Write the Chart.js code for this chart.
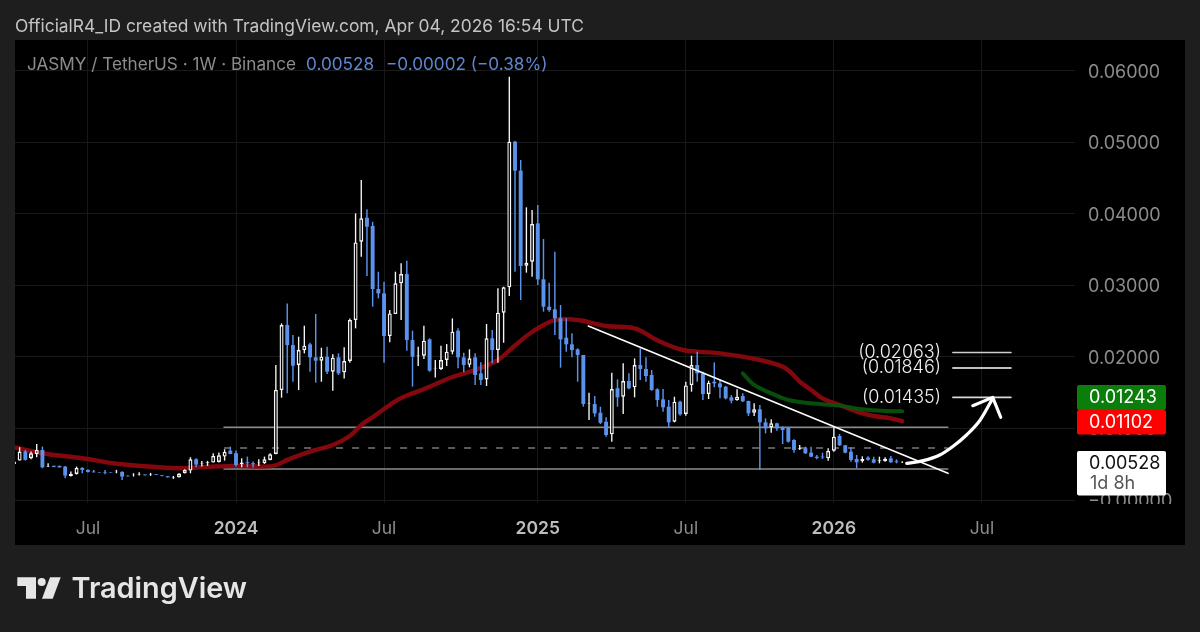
<!DOCTYPE html>
<html><head><meta charset="utf-8">
<style>html,body{margin:0;padding:0;background:#1e1e1e;overflow:hidden}#w{position:absolute;left:0;top:0;width:1200px;height:632px}</style>
<script src="https://cdn.jsdelivr.net/npm/chart.js@4/dist/chart.umd.min.js"></script>
</head><body><div id="w"><canvas id="c" width="1200" height="632"></canvas></div>
<script>
const firstWeek = -39;
const opens = [
.00505,.00551,.00677,.00584,.00644,.00700,.00467,.00477,.00477,.00467,
.00337,.00365,.00449,.00421,.00397,.00390,.00392,.00385,.00388,.00393,
.00340,.00348,.00358,.00356,.00354,.00360,.00346,.00332,.00316,.00318,
.00374,.00411,.00570,.00510,.00518,.00523,.00533,.00607,.00691,.00654,
.00505,.00528,.00514,.00514,.00514,.00561,.00644,.01538,.02447,.02167,
.01888,.02097,.02177,.01995,.01948,.02004,.01795,.01995,.01785,.01944,
.02517,.03613,.03948,.03832,.02951,.02890,.02293,.02601,.03030,.03160,
.02237,.02010,.02018,.02247,.01840,.01832,.01958,.02074,.02368,.01995,
.01890,.01995,.01771,.01687,.02261,.02097,.02620,.02974,.05012,.04606,
.03277,.03333,.03869,.03086,.02704,.02667,.02541,.02270,.02177,.02107,
.02028,.01345,.01342,.01221,.01095,.00918,.01562,.01445,.01664,.01576,
.01888,.01832,.01748,.01548,.01408,.01305,.01095,.01375,.01203,.01608,
.01888,.01771,.01482,.01655,.01631,.01585,.01436,.01398,.01454,.01385,
.01221,.01268,.01086,.01016,.01072,.01017,.01012,.00839,.00714,.00723,
.00662,.00606,.00606,.00583,.00690,.00895,.00765,.00676,.00574,.00541,
.00592,.00569,.00550,.00546,.00583,.00541,.00524];
const highs = [
.00561,.00738,.00700,.00677,.00784,.00747,.00514,.00484,.00482,.00477,
.00397,.00467,.00458,.00425,.00421,.00392,.00421,.00387,.00421,.00402,
.00343,.00374,.00388,.00358,.00379,.00362,.00349,.00335,.00337,.00375,
.00430,.00598,.00584,.00547,.00547,.00654,.00663,.00710,.00747,.00691,
.00584,.00607,.00537,.00570,.00607,.00654,.01889,.02470,.02750,.02307,
.02284,.02438,.02200,.02601,.02130,.02144,.02037,.02051,.02135,.02540,
.04009,.04475,.04065,.03892,.03193,.03053,.02657,.03193,.03310,.03347,
.02368,.02144,.02438,.02261,.01958,.02158,.02181,.02540,.02401,.02060,
.02107,.02051,.01925,.02461,.02377,.02960,.02983,.05921,.05020,.04755,
.04093,.04056,.04126,.03650,.03040,.03473,.02727,.02541,.02331,.02121,
.02028,.01501,.01454,.01305,.01156,.01781,.01687,.01911,.01771,.01981,
.02121,.01995,.01818,.01562,.01552,.01398,.01445,.01389,.01655,.02018,
.02074,.01795,.01669,.01925,.01678,.01594,.01468,.01548,.01492,.01389,
.01352,.01328,.01142,.01128,.01081,.01030,.01020,.00850,.00769,.00746,
.00746,.00630,.00662,.00723,.01017,.00923,.00770,.00737,.00630,.00611,
.00611,.00606,.00606,.00597,.00616,.00569,.00541];
const lows = [
.00491,.00551,.00551,.00570,.00598,.00444,.00463,.00458,.00453,.00304,
.00330,.00356,.00374,.00385,.00385,.00383,.00360,.00378,.00374,.00281,
.00330,.00328,.00342,.00344,.00337,.00349,.00332,.00314,.00295,.00316,
.00370,.00374,.00458,.00467,.00477,.00523,.00523,.00551,.00640,.00467,
.00458,.00458,.00453,.00477,.00505,.00555,.00640,.01431,.01492,.01655,
.01538,.02051,.01795,.01641,.01655,.01762,.01529,.01748,.01701,.01920,
.02401,.03403,.03132,.02704,.02820,.01920,.02205,.02601,.02517,.02088,
.01585,.01874,.01972,.01794,.01715,.01818,.01874,.02037,.01841,.01785,
.01855,.01608,.01608,.01594,.01911,.01920,.02200,.02853,.03194,.02797,
.03180,.03124,.03007,.02634,.02634,.02307,.01851,.02074,.01995,.01655,
.01305,.01119,.01165,.01063,.00886,.00816,.01305,.01203,.01548,.01436,
.01678,.01655,.01529,.01305,.01235,.01016,.01086,.01179,.01179,.01515,
.01655,.01398,.01412,.01576,.01422,.01408,.01352,.01389,.01370,.01175,
.01175,.00419,.00932,.00942,.00970,.00783,.00802,.00662,.00700,.00644,
.00597,.00569,.00574,.00550,.00676,.00755,.00655,.00536,.00443,.00522,
.00550,.00513,.00513,.00536,.00522,.00513,.00518];
const closes = [
.00540,.00677,.00561,.00654,.00700,.00458,.00477,.00463,.00458,.00342,
.00365,.00449,.00421,.00393,.00388,.00385,.00384,.00380,.00395,.00328,
.00332,.00354,.00364,.00346,.00360,.00351,.00337,.00318,.00322,.00369,
.00421,.00570,.00495,.00518,.00528,.00616,.00626,.00672,.00644,.00491,
.00523,.00514,.00500,.00523,.00570,.00640,.01539,.02447,.02167,.01878,
.02097,.02158,.01995,.01948,.02004,.01795,.01990,.01771,.01944,.02517,
.03603,.03939,.03822,.02951,.02890,.02293,.02610,.03030,.03160,.02237,
.02004,.02022,.02228,.01808,.01850,.01958,.02074,.02354,.01995,.01888,
.01981,.01748,.01678,.02261,.02097,.02620,.02974,.05012,.04606,.03273,
.03319,.03860,.03086,.02704,.02657,.02541,.02247,.02177,.02098,.02028,
.01342,.01352,.01212,.01081,.00909,.01552,.01436,.01664,.01562,.01888,
.01832,.01734,.01538,.01398,.01296,.01086,.01375,.01198,.01603,.01888,
.01771,.01482,.01641,.01631,.01576,.01422,.01389,.01445,.01380,.01212,
.01268,.01086,.01002,.01072,.01002,.00979,.00816,.00700,.00723,.00653,
.00606,.00588,.00597,.00686,.00886,.00765,.00662,.00560,.00527,.00574,
.00564,.00522,.00564,.00578,.00527,.00530,.00528];

const redWeeks = [-39,-34,-27,-20,-10,-5,0,5,7,9,13,17,20,22,24,26,29,33.5,38,42,46,48.7,52,56,60,65,70,74.5,78.5,85,92,96,97.6,99,101,103,106,109,112,115,117];
const redValues = [.00738,.00654,.00584,.00500,.00444,.00463,.00477,.00467,.00486,.00561,.00677,.00770,.00896,.01050,.01157,.01273,.01426,.01566,.01720,.01818,.01958,.02140,.02350,.02517,.02517,.02433,.02401,.02214,.02098,.02051,.01958,.01865,.01772,.01655,.01539,.01422,.01329,.01236,.01175,.01142,.01102];
const greenWeeks = [89,91,94,97,101,106,110,114,117];
const greenValues = [.01772,.01609,.01492,.01399,.01352,.01320,.01268,.01245,.01243];

const trendWeeks = [61.87,125.04];
const trendValues = [.02434,.00373];
const levelWeeks = [-2.1,125.0];
const levelHigh = .01017, levelDash = .00727, levelLow = .00434;
const targetWeeks = [125.9,136.1];
const targets = [.02063,.01846,.01435];
const targetLabels = ['(0.02063)','(0.01846)','(0.01435)'];
const arrowWeeks = [117.8,120.7,123.6,126,128.3,130.7,132.9];
const arrowValues = [.00513,.00550,.00629,.00755,.00909,.01119,.01422];
const arrowHeadWeeks = [129.4,132.9,134.3];
const arrowHeadValues = [.01319,.01435,.01157];

const xTickWeeks = [-26,0,26,53,79,105,131];
const xTickLabels = ['Jul','2024','Jul','2025','Jul','2026','Jul'];
const yTickValues = [0,.01,.02,.03,.04,.05,.06];
const yTickLabels = ['\u22120.00000','0.01000','0.02000','0.03000','0.04000','0.05000','0.06000'];

const FONT = 'Inter, "Noto Sans", sans-serif';
const BLUE = '#5a92ec', WHITE = '#f6f6f6';
const weeks = opens.map((_, i) => firstWeek + i);
const xy = (xs, ys) => xs.map((x, i) => ({x, y: ys[i]}));
const upIdx = weeks.map((_, i) => i).filter(i => closes[i] >= opens[i]);
const dnIdx = weeks.map((_, i) => i).filter(i => closes[i] < opens[i]);
const wicks = idx => idx.map(i => ({x: weeks[i], y: [lows[i], highs[i]]}));
const bodies = idx => idx.map(i => ({x: weeks[i], y: [Math.min(opens[i], closes[i]), Math.max(opens[i], closes[i])]}));
const lineDs = (data, color, width, order, extra) => Object.assign({type:'line', data, borderColor:color, borderWidth:width, pointRadius:0, order, fill:false, tension:0, borderCapStyle:'round', borderJoinStyle:'round'}, extra||{});

const overlay = {
  id:'overlay',
  beforeDraw(ch){
    const c = ch.ctx;
    c.save();
    c.fillStyle='#1e1e1e'; c.fillRect(0,0,1200,632);
    c.fillStyle='#000'; c.fillRect(15,40,1170,505);
    c.restore();
  },
  afterDraw(ch){
    const c = ch.ctx, y = ch.scales.y;
    c.save();
    c.textBaseline='middle';
    c.fillStyle='#000'; c.fillRect(1076,504,109,40);
    c.textAlign='left';
    c.font='400 17.4px '+FONT; c.fillStyle='#c4c4c4';
    c.fillText('OfficialR4_ID created with TradingView.com, Apr 04, 2026 16:54 UTC',15,27);
    c.font='400 17.15px '+FONT; c.fillStyle='#8c8c8c';
    c.fillText('JASMY / TetherUS \u00b7 1W \u00b7 Binance',27,65);
    c.fillStyle='#5f86cf';
    c.fillText('0.00528',306,65);
    c.fillText('\u22120.00002 (\u22120.38%)',386,65);
    c.textAlign='right'; c.font='300 18px '+FONT; c.fillStyle='#f0f0f0';
    targets.forEach((v,i)=>c.fillText(targetLabels[i],941,y.getPixelForValue(v)));
    c.textAlign='left';
    const box=(top,h,bg)=>{c.fillStyle=bg;c.beginPath();c.roundRect(1077,top,89,h,2);c.fill();};
    box(385,25,'#0a7d0a'); box(410,24.5,'#ff0000'); box(451,44.5,'#ffffff');
    c.font='400 18px '+FONT;
    c.fillStyle='#ffffff'; c.fillText('0.01243',1089,398); c.fillText('0.01102',1089,423);
    c.fillStyle='#111'; c.fillText('0.00528',1089,464);
    c.fillStyle='#555'; c.fillText('1d 8h',1090,484);
    c.fillStyle='#e6e6e6';
    c.beginPath();c.moveTo(17.3,577.3);c.lineTo(36,577.3);c.lineTo(36,598.7);c.lineTo(26,598.7);c.lineTo(26,586);c.lineTo(17.3,586);c.closePath();c.fill();
    c.beginPath();c.arc(41.7,582,4,0,Math.PI*2);c.fill();
    c.beginPath();c.moveTo(50,577.3);c.lineTo(60.7,577.3);c.lineTo(52.7,598.7);c.lineTo(42,598.7);c.closePath();c.fill();
    c.font='600 28.8px '+FONT; c.fillStyle='#e6e6e6';
    c.fillText('TradingView',71.5,589);
    c.restore();
  }
};

new Chart(document.getElementById('c'),{
  type:'bar',
  data:{datasets:[
    lineDs(xy(arrowWeeks,arrowValues),'#ffffff',3.2,0,{cubicInterpolationMode:'monotone'}),
    lineDs(xy(arrowHeadWeeks,arrowHeadValues),'#ffffff',3.2,0),
    lineDs(xy(trendWeeks,trendValues),'#ffffff',1.6,1),
    lineDs(xy(targetWeeks,[targets[0],targets[0]]),'#cfcfcf',1.6,1),
    lineDs(xy(targetWeeks,[targets[1],targets[1]]),'#ffffff',1.6,1),
    lineDs(xy(targetWeeks,[targets[2],targets[2]]),'#d8d8d8',1.6,1),
    {data:bodies(upIdx),backgroundColor:'#000',borderColor:WHITE,borderWidth:1.4,borderSkipped:false,barPercentage:.88,order:2},
    {data:bodies(dnIdx),backgroundColor:BLUE,borderWidth:0,barPercentage:.86,order:2},
    {data:wicks(upIdx),backgroundColor:WHITE,borderWidth:0,barPercentage:.3,order:3},
    {data:wicks(dnIdx),backgroundColor:BLUE,borderWidth:0,barPercentage:.32,order:3},
    lineDs(xy(greenWeeks,greenValues),'rgba(8,85,12,.92)',4,4,{tension:.35}),
    lineDs(xy(redWeeks,redValues),'rgba(138,8,14,.95)',4.4,5,{tension:.35}),
    lineDs(xy(levelWeeks,[levelHigh,levelHigh]),'#8c8c8c',1.6,6),
    lineDs(xy(levelWeeks,[levelDash,levelDash]),'#777777',1.6,6,{borderDash:[7,9],borderCapStyle:'butt'}),
    lineDs(xy(levelWeeks,[levelLow,levelLow]),'#8c8c8c',1.6,6)
  ]},
  plugins:[overlay],
  options:{
    responsive:false,animation:false,events:[],
    datasets:{bar:{grouped:false}},
    layout:{padding:{left:15,right:15,top:40,bottom:87}},
    plugins:{legend:{display:false},tooltip:{enabled:false},title:{display:false}},
    scales:{
      x:{type:'linear',offset:false,min:(15-236)/5.694,max:(1075-236)/5.694,
        grid:{offset:false,color:'#171717',lineWidth:1,drawTicks:false},border:{display:false},
        afterBuildTicks:s=>{s.ticks=xTickWeeks.map(value=>({value}));},
        afterFit:s=>{s.height=42;},
        ticks:{autoSkip:false,maxRotation:0,padding:15,
          callback:v=>xTickLabels[xTickWeeks.indexOf(v)],
          color:ctx=>/^\d/.test(xTickLabels[ctx.index]||'')?'#bdbdbd':'#8c8c8c',
          font:ctx=>({family:FONT,size:17.5,weight:/^\d/.test(xTickLabels[ctx.index]||'')?'600':'400'})}},
      y:{type:'linear',position:'right',min:-3/7150,max:460/7150,beginAtZero:false,
        grid:{color:'#191919',lineWidth:1,drawTicks:false},border:{display:false},
        afterBuildTicks:s=>{s.ticks=yTickValues.map(value=>({value}));},
        afterFit:s=>{s.width=110;},
        ticks:{padding:13,color:'#8c8c8c',labelOffset:1.5,font:{family:FONT,size:18,weight:'400'},
          callback:v=>yTickLabels[yTickValues.indexOf(v)]}}
    }
  }
});
</script></body></html>
